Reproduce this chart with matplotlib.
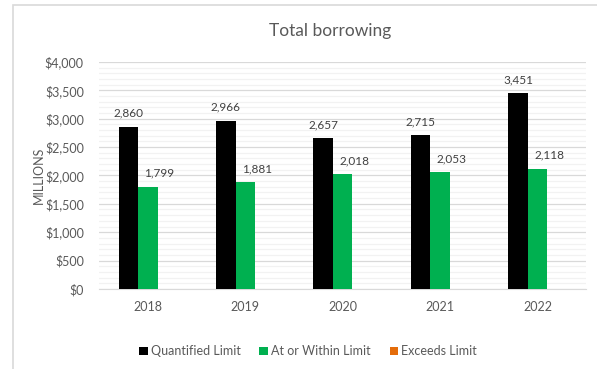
import matplotlib.pyplot as plt
import numpy as np
from matplotlib.ticker import MultipleLocator, FuncFormatter
from matplotlib.patches import Rectangle

years = ["2018", "2019", "2020", "2021", "2022"]
quantified = [2860, 2966, 2657, 2715, 3451]
within = [1799, 1881, 2018, 2053, 2118]
exceeds = [0, 0, 0, 0, 0]

plt.rcParams["font.family"] = ["Lato", "DejaVu Sans"]
text_color = "#595959"

fig = plt.figure(figsize=(5.97, 3.69), dpi=100)
ax = fig.add_axes([0.166, 0.217, 0.816, 0.615])

# light frame around the whole chart
fig.patches.append(Rectangle((13 / 597, -0.1), 1.2, 1 - 5 / 369 + 0.1, transform=fig.transFigure,
                             fill=False, edgecolor="#D9D9D9", linewidth=1.2))

x = np.arange(len(years))
w = 0.2
b1 = ax.bar(x - w, quantified, w, color="black", label="Quantified Limit", zorder=3)
b2 = ax.bar(x, within, w, color="#00B050", label="At or Within Limit", zorder=3)
b3 = ax.bar(x + w, exceeds, w, color="#E46C0A", label="Exceeds Limit", zorder=3)

# value labels; the green ones sit a little to the right of their bar
for bars, vals, shift in ((b1, quantified, 0.0), (b2, within, 0.12)):
    for rect, v in zip(bars, vals):
        ax.text(rect.get_x() + rect.get_width() / 2 + shift, v + 140, f"{v:,}",
                ha="center", va="bottom", fontsize=8.5, color="#404040", zorder=4)

ax.set_xlim(-0.5, len(years) - 0.5)
ax.set_ylim(0, 4000)
ax.yaxis.set_major_locator(MultipleLocator(500))
ax.yaxis.set_minor_locator(MultipleLocator(100))
ax.yaxis.set_major_formatter(FuncFormatter(lambda v, p: f"${v:,.0f}"))
ax.grid(axis="y", which="major", color="#D9D9D9", linewidth=0.9, zorder=0)
ax.grid(axis="y", which="minor", color="#F2F2F2", linewidth=0.9, zorder=0)
ax.set_axisbelow(True)

ax.set_xticks(x)
ax.set_xticklabels(years)
ax.tick_params(axis="both", which="both", length=0, labelsize=9, colors=text_color)
ax.tick_params(axis="x", pad=9)
ax.tick_params(axis="y", pad=11)

for side in ("top", "right", "left"):
    ax.spines[side].set_visible(False)
ax.spines["bottom"].set_color("#D9D9D9")

ax.set_ylabel("MILLIONS", fontsize=9, color=text_color, labelpad=0)
fig.text(0.553, 0.915, "Total borrowing", ha="center", va="center", fontsize=12.5, color=text_color)

fig.legend(handles=[b1, b2, b3], loc="center", bbox_to_anchor=(0.516, 0.048), ncol=3,
           frameon=False, fontsize=9, labelcolor=text_color, handlelength=0.7, handleheight=0.7,
           handletextpad=0.25, columnspacing=1.5)

fig.savefig("out.png", dpi=100)
